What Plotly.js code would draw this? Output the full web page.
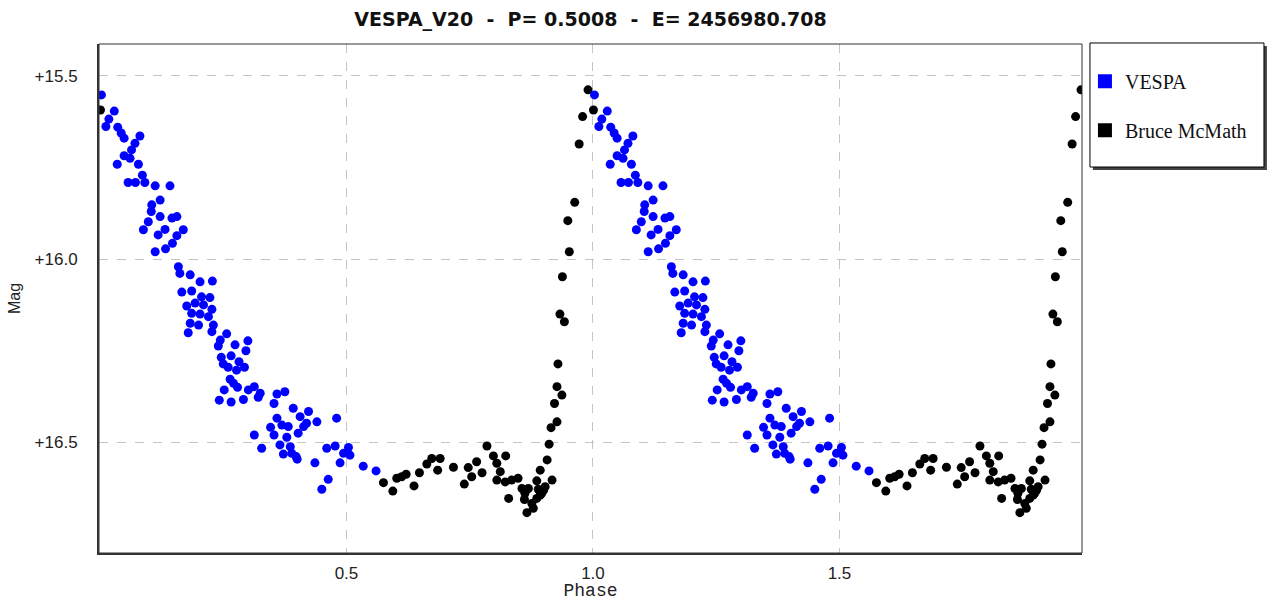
<!DOCTYPE html>
<html>
<head>
<meta charset="utf-8">
<script src="https://cdn.plot.ly/plotly-3.0.1.min.js"></script>
<style>html,body{margin:0;padding:0;background:#fff;}#chart{width:1267px;height:601px;}</style>
</head>
<body>
<div id="chart"></div>
<script>
// Phase-folded photometry (one cycle); the chart shows the cycle twice (phase and phase+1)
const vespaPhase = [0.003,0.029,0.018,0.012,0.036,0.043,0.049,0.081,0.071,0.064,0.049,0.061,0.035,0.078,0.086,0.057,0.072,0.091,0.112,0.142,0.122,0.105,0.104,0.122,0.098,0.088,0.146,0.156,0.132,0.118,0.169,0.156,0.147,0.133,0.112,0.159,0.162,0.183,0.203,0.228,0.166,0.186,0.206,0.223,0.176,0.193,0.210,0.227,0.186,0.203,0.220,0.183,0.200,0.230,0.179,0.227,0.257,0.244,0.300,0.274,0.240,0.296,0.266,0.246,0.250,0.282,0.293,0.260,0.277,0.264,0.271,0.279,0.252,0.301,0.313,0.325,0.321,0.291,0.242,0.266,0.313,0.328,0.359,0.375,0.353,0.392,0.423,0.406,0.359,0.419,0.440,0.480,0.369,0.382,0.346,0.413,0.353,0.379,0.402,0.365,0.386,0.372,0.389,0.398,0.400,0.460,0.477,0.504,0.494,0.507,0.436,0.487,0.534,0.560,0.463,0.450];
const vespaMag = [15.552,15.596,15.618,15.638,15.640,15.656,15.670,15.664,15.684,15.702,15.718,15.725,15.741,15.741,15.771,15.791,15.791,15.791,15.800,15.800,15.839,15.852,15.870,15.884,15.898,15.920,15.888,15.884,15.919,15.934,15.920,15.936,15.957,15.972,15.980,16.021,16.039,16.043,16.062,16.060,16.090,16.087,16.103,16.105,16.128,16.120,16.125,16.137,16.148,16.150,16.157,16.175,16.180,16.180,16.201,16.198,16.204,16.221,16.223,16.234,16.237,16.250,16.264,16.268,16.286,16.280,16.295,16.295,16.303,16.328,16.339,16.350,16.357,16.357,16.348,16.366,16.377,16.383,16.385,16.390,16.480,16.516,16.368,16.362,16.394,16.407,16.416,16.430,16.434,16.448,16.444,16.434,16.453,16.457,16.459,16.457,16.480,16.486,16.475,16.507,16.512,16.532,16.530,16.539,16.546,16.516,16.510,16.514,16.530,16.535,16.556,16.556,16.565,16.578,16.601,16.628];
const mcmathPhase = [0.001,0.990,0.979,0.972,0.963,0.949,0.952,0.938,0.933,0.942,0.929,0.927,0.937,0.922,0.927,0.915,0.911,0.907,0.893,0.917,0.785,0.798,0.823,0.805,0.812,0.805,0.764,0.747,0.754,0.775,0.739,0.717,0.690,0.673,0.685,0.663,0.822,0.835,0.848,0.856,0.829,0.862,0.869,0.861,0.876,0.879,0.866,0.886,0.889,0.893,0.900,0.903,0.886,0.896,0.575,0.594,0.602,0.612,0.621,0.637,0.648];
const mcmathMag = [15.593,15.538,15.611,15.686,15.845,15.895,15.980,16.048,16.150,16.171,16.286,16.348,16.371,16.394,16.444,16.460,16.505,16.548,16.576,16.603,16.510,16.537,16.537,16.557,16.580,16.603,16.553,16.569,16.594,16.583,16.614,16.568,16.544,16.544,16.576,16.559,16.608,16.603,16.598,16.626,16.653,16.639,16.626,16.656,16.667,16.680,16.692,16.605,16.628,16.644,16.630,16.621,16.653,16.639,16.610,16.633,16.598,16.594,16.587,16.619,16.583];
const xTickVals = [0.5, 1.0, 1.5];
const xTickText = ['0.5', '1.0', '1.5'];
const yTickVals = [15.5, 16.0, 16.5];
const yTickText = ['+15.5', '+16.0', '+16.5'];
const seriesNames = ['VESPA', 'Bruce McMath'];
const seriesColors = ['#0000ff', '#000000'];
const chartTitle = 'VESPA_V20\u00a0 -\u00a0 P= 0.5008\u00a0 -\u00a0 E= 2456980.708';

function twoCycles(ph) { return ph.concat(ph.map(p => p + 1)); }

const traces = [
  {x: twoCycles(mcmathPhase), y: mcmathMag.concat(mcmathMag), mode: 'markers', type: 'scatter',
   marker: {color: seriesColors[1], size: 9}, showlegend: false, hoverinfo: 'skip'},
  {x: twoCycles(vespaPhase), y: vespaMag.concat(vespaMag), mode: 'markers', type: 'scatter',
   marker: {color: seriesColors[0], size: 9}, showlegend: false, hoverinfo: 'skip'},
  {x: [null], y: [null], mode: 'markers', type: 'scatter', name: seriesNames[0], legendgroup: 'a',
   marker: {color: seriesColors[0], size: 14, symbol: 'square'}},
  {x: [null], y: [null], mode: 'markers', type: 'scatter', name: seriesNames[1], legendgroup: 'b',
   marker: {color: seriesColors[1], size: 14, symbol: 'square'}}
];

const layout = {
  width: 1267, height: 601,
  margin: {l: 99, r: 185, t: 44, b: 48},
  paper_bgcolor: '#ffffff', plot_bgcolor: '#ffffff',
  title: {text: chartTitle, x: 0.5, xref: 'paper', xanchor: 'center', y: 0.967, yanchor: 'middle',
          font: {family: 'DejaVu Sans', size: 19, color: '#111', weight: 'bold'}},
  xaxis: {range: [-0.002, 1.992], tickvals: xTickVals, ticktext: xTickText,
          showgrid: true, gridcolor: '#c4c4c4', griddash: 'dash', gridwidth: 1,
          zeroline: false, showline: true, linecolor: '#333', linewidth: 2, ticks: '',
          ticklabelstandoff: 4,
          tickfont: {family: 'Liberation Sans', size: 17, color: '#222'},
          title: {text: 'Phase', standoff: 7, font: {family: '"Courier New", "Liberation Mono", "DejaVu Sans Mono", monospace', size: 18, color: '#222'}},
          automargin: false},
  yaxis: {range: [16.802, 15.413], tickvals: yTickVals, ticktext: yTickText,
          showgrid: true, gridcolor: '#c4c4c4', griddash: 'dash', gridwidth: 1,
          zeroline: false, showline: true, linecolor: '#333', linewidth: 2, ticks: '',
          ticklabelstandoff: 16,
          tickfont: {family: 'Liberation Sans', size: 17, color: '#222'},
          title: {text: 'Mag', standoff: 10, font: {family: 'Liberation Sans', size: 16, color: '#222'}},
          automargin: false},
  shapes: [
    {type: 'rect', xref: 'paper', yref: 'paper', x0: 0, x1: 1, y0: 0, y1: 1,
     line: {color: '#333', width: 1}, layer: 'above'},
    {type: 'rect', xref: 'paper', yref: 'paper', x0: 1.0111, x1: 1.1881, y0: 0.7523, y1: 0.996,
     line: {width: 0}, fillcolor: '#444', layer: 'below'},
    {type: 'rect', xref: 'paper', yref: 'paper', x0: 1.0081, x1: 1.1851, y0: 0.7583, y1: 1.002,
     line: {color: '#000', width: 1}, fillcolor: '#ffffff', layer: 'below'}
  ],
  legend: {x: 1.003, xanchor: 'left', y: 0.965, yanchor: 'top', bgcolor: 'rgba(0,0,0,0)',
           borderwidth: 0, traceorder: 'grouped', tracegroupgap: 20,
           font: {family: 'Liberation Serif', size: 20, color: '#111'}},
};

Plotly.newPlot('chart', traces, layout, {staticPlot: true, displayModeBar: false});
</script>
</body>
</html>
